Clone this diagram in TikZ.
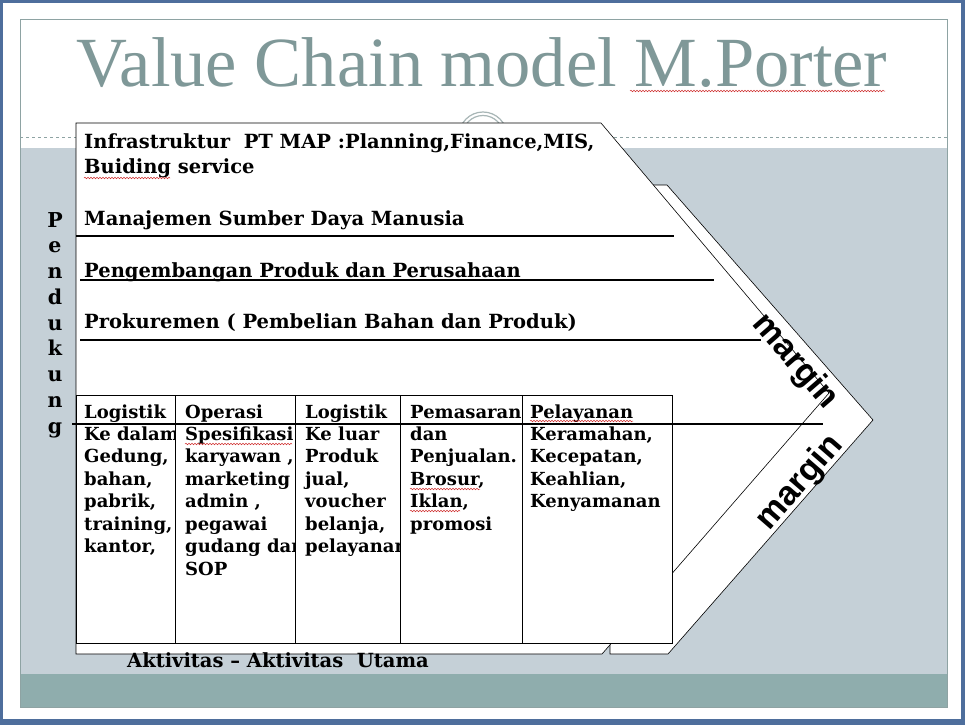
\documentclass[tikz,border=0pt]{standalone}
\usepackage{fontspec}
\setmainfont{DejaVu Serif}
\newfontfamily\titlefont{Liberation Serif}
\newfontfamily\marginfont{Liberation Sans}
\usepackage{xcolor}
\usetikzlibrary{positioning,decorations.pathmorphing}

\definecolor{screenblue}{HTML}{4E6E9C}
\definecolor{framegray}{HTML}{8EA3A3}
\definecolor{titlegray}{HTML}{7F9898}
\definecolor{slidegray}{HTML}{C5D0D7}
\definecolor{bandteal}{HTML}{8FADAD}
\definecolor{ringgray}{HTML}{A8B6B6}
\definecolor{spellred}{HTML}{D03030}

\begin{document}
\begin{tikzpicture}[x=1pt, y=-1pt,
    chevron/.style={draw=black, fill=white, line width=0.6pt},
    rule/.style={draw=black, line width=1.1pt},
    gridline/.style={draw=black, line width=0.9pt},
    squiggle/.style={draw=spellred, line width=0.5pt, decorate, decoration={snake, segment length=3pt, amplitude=0.8pt}},
    suptext/.style={anchor=base west, inner sep=0pt, font=\bfseries\fontsize{19.5}{22.5}\selectfont},
    headtext/.style={anchor=base west, inner sep=0pt, font=\bfseries\fontsize{18}{22.5}\selectfont},
    celltext/.style={anchor=north west, inner sep=0pt, align=left, font=\bfseries\fontsize{18}{22.5}\selectfont},
    pendletter/.style={anchor=base, inner sep=0pt, font=\bfseries\fontsize{20.5}{20.5}\selectfont},
    marginlabel/.style={inner sep=0pt, font=\marginfont\bfseries\fontsize{34}{34}\selectfont},
  ]
  % Screen and slide frame
  \fill[screenblue] (0,0) rectangle (965,725);
  \fill[white] (3,3) rectangle (961,719);
  \fill[slidegray] (20,148) rectangle (947,674);
  \fill[bandteal] (20,674) rectangle (947,707);
  \draw[framegray, line width=0.8pt] (20,19) rectangle (947,707);
  \draw[framegray, dashed, line width=0.6pt] (20,137) -- (947,137);

  % Title
  \node[anchor=base, text=titlegray, inner sep=0pt, font=\titlefont\fontsize{70.5}{70.5}\selectfont] (title) at (482,86) {Value Chain model M.Porter};
  \draw[squiggle] (630,91) -- (885,91);

  % Ornament
  \draw[ringgray, fill=white, line width=1.2pt] (483,136) circle (24);
  \draw[ringgray, line width=1.2pt] (483,136) circle (20.5);

  % Margin chevron (back)
  \coordinate (backtl) at (610,185);
  \coordinate (backtr) at (667,185);
  \coordinate (backtip) at (873,420);
  \coordinate (backbr) at (668,654);
  \coordinate (backbl) at (610,654);
  \draw[chevron] (backtl) -- (backtr) -- (backtip) -- (backbr) -- (backbl) -- cycle;

  % Activities chevron (front)
  \coordinate (fronttl) at (76,123);
  \coordinate (fronttr) at (601,123);
  \coordinate (fronttip) at (829,393);
  \coordinate (frontbr) at (602,654);
  \coordinate (frontbl) at (76,654);
  \draw[chevron] (fronttl) -- (fronttr) -- (fronttip) -- (frontbr) -- (frontbl) -- cycle;

  % Support rows
  \draw[rule] (76,236) -- (674,236);
  \draw[rule] (80,280) -- (714,280);
  \draw[rule] (80,340) -- (761,340);
  \node[suptext] (infra) at (84,148) {Infrastruktur\ \ PT MAP :Planning,Finance,MIS,};
  \node[suptext] (infra2) at (84,173) {Buiding service};
  \draw[squiggle] (84,178) -- (170,178);
  \node[suptext] (sdm) at (84,225) {Manajemen Sumber Daya Manusia};
  \node[suptext] (pengembangan) at (84,277) {Pengembangan Produk dan Perusahaan};
  \node[suptext] (prokuremen) at (84,328) {Prokuremen ( Pembelian Bahan dan Produk)};

  % Primary activities table
  \draw[gridline, fill=white] (76,395) rectangle (672,643);
  \foreach \cx in {175,295,400,522}
    \draw[gridline] (\cx,395) -- (\cx,643);
  \draw[rule] (72,424) -- (823,424);

  \node[headtext] (loginhead) at (84,418) {Logistik};
  \node[headtext] (operasihead) at (185,418) {Operasi};
  \node[headtext] (logouthead) at (305,418) {Logistik};
  \node[headtext] (pemasaranhead) at (410,418) {Pemasaran};
  \node[headtext] (pelayananhead) at (530,418) {Pelayanan};

  \begin{scope}
    \clip (80,425) rectangle (174,642);
    \node[celltext] (loginbody) at (84,424.25) {\strut Ke dalam\\Gedung,\\bahan,\\pabrik,\\training,\\kantor,};
  \end{scope}
  \begin{scope}
    \clip (176,425) rectangle (294.5,642);
    \node[celltext] (operasibody) at (185,424.25) {\strut Spesifikasi\\karyawan ,\\marketing ,\\admin ,\\pegawai\\gudang dan\\SOP};
  \end{scope}
  \begin{scope}
    \clip (296,425) rectangle (399.5,642);
    \node[celltext] (logoutbody) at (305,424.25) {\strut Ke luar\\Produk\\jual,\\voucher\\belanja,\\pelayanan};
  \end{scope}
  \node[celltext] (pemasaranbody) at (410,424.25) {\strut dan\\Penjualan.\\Brosur,\\Iklan,\\promosi};
  \node[celltext] (pelayananbody) at (530,424.25) {\strut Keramahan,\\Kecepatan,\\Keahlian,\\Kenyamanan};

  % Spelling marks
  \draw[squiggle] (530,421) -- (633,421);
  \draw[squiggle] (185,444) -- (292,444);
  \draw[squiggle] (410,489) -- (480,489);
  \draw[squiggle] (410,511) -- (460,511);

  % Side label
  \foreach \ch [count=\i from 0] in {P,e,n,d,u,k,u,n,g}
    \node[pendletter] (pend\i) at (55,227+25.75*\i) {\ch};

  % Margin labels
  \node[marginlabel, rotate=-49] (margintop) at (795,362) {margin};
  \node[marginlabel, rotate=49] (marginbottom) at (800,483) {margin};

  % Bottom caption
  \node[suptext, anchor=base] (utama) at (278,667) {Aktivitas -- Aktivitas\ \ Utama};
\end{tikzpicture}
\end{document}
